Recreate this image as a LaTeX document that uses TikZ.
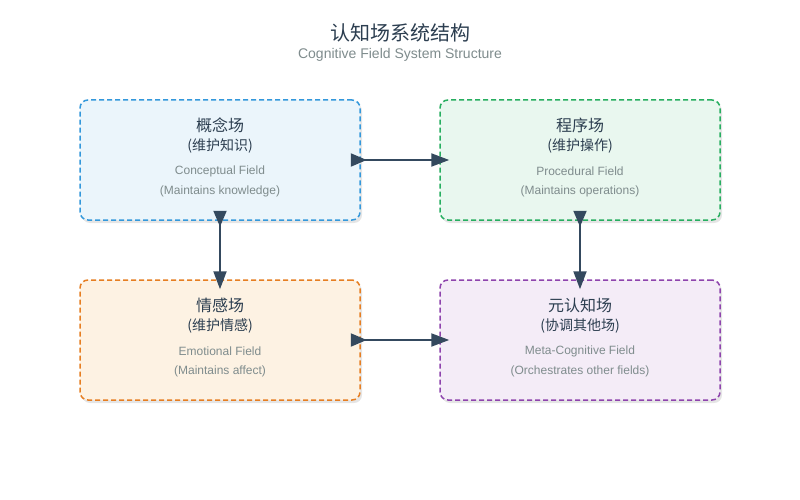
\documentclass[tikz,border=0pt]{standalone}
\usepackage{fontspec}
\setmainfont{Liberation Sans}
\newfontfamily\cjk{Noto Sans CJK SC}
\usetikzlibrary{arrows.meta,shadows,calc}
\definecolor{cblue}{HTML}{3498DB}
\definecolor{fblue}{HTML}{EBF5FB}
\definecolor{cgreen}{HTML}{27AE60}
\definecolor{fgreen}{HTML}{E9F7EF}
\definecolor{corange}{HTML}{E67E22}
\definecolor{forange}{HTML}{FDF2E3}
\definecolor{cpurple}{HTML}{8E44AD}
\definecolor{fpurple}{HTML}{F4ECF7}
\definecolor{tdark}{HTML}{2C3E50}
\definecolor{tgray}{HTML}{7F8C8D}
\definecolor{arrowc}{HTML}{34495E}
\begin{document}
\begin{tikzpicture}[x=1pt,y=-1pt,
  fieldbox/.style={rectangle, rounded corners=8pt, minimum width=280pt, minimum height=120pt,
    line width=1.5pt, dash pattern=on 5pt off 3pt, inner sep=0pt,
    drop shadow={opacity=0.1, shadow xshift=2pt, shadow yshift=-3pt, fill=black}},
  cntitle/.style={inner sep=0pt, text=tdark, font=\cjk\fontsize{16}{18}\selectfont},
  cnsub/.style={inner sep=0pt, text=tdark, font=\cjk\fontsize{14}{16}\selectfont},
  ensub/.style={inner sep=0pt, text=tgray, font=\fontsize{12}{14}\selectfont},
  conn/.style={draw=arrowc, line width=2pt,
    {Triangle[reversed,length=16pt,width=13pt]}-{Triangle[length=18pt,width=13pt]},
    shorten <=-10pt, shorten >=-10pt}
]
\useasboundingbox[fill=white] (0,0) rectangle (800,500);

\node[inner sep=0pt, text=tdark, font=\cjk\fontsize{20}{22}\selectfont] (title) at (400,33) {认知场系统结构};
\node[inner sep=0pt, text=tgray, font=\fontsize{14}{16}\selectfont] (subtitle) at (400,55) {Cognitive Field System Structure};

\node[fieldbox, draw=cblue, fill=fblue] (con) at (220,160) {};
\node[fieldbox, draw=cgreen, fill=fgreen] (pro) at (580,160) {};
\node[fieldbox, draw=corange, fill=forange] (emo) at (220,340) {};
\node[fieldbox, draw=cpurple, fill=fpurple] (meta) at (580,340) {};

\foreach \b/\t/\s/\e/\f in {con/概念场/(维护知识)/Conceptual Field/(Maintains knowledge),
  pro/程序场/(维护操作)/Procedural Field/(Maintains operations),
  emo/情感场/(维护情感)/Emotional Field/(Maintains affect),
  meta/元认知场/(协调其他场)/Meta-Cognitive Field/(Orchestrates other fields)}{
  \node[cntitle] (\b-t) at ($(\b.center)+(0,-35)$) {\t};
  \node[cnsub] (\b-s) at ($(\b.center)+(0,-14)$) {\s};
  \node[ensub] (\b-e) at ($(\b.center)+(0,11)$) {\e};
  \node[ensub] (\b-f) at ($(\b.center)+(0,31)$) {\f};
}

\draw[conn] (con.east) -- (pro.west);
\draw[conn] (emo.east) -- (meta.west);
\draw[conn] (con.south) -- (emo.north);
\draw[conn] (pro.south) -- (meta.north);
\end{tikzpicture}
\end{document}
